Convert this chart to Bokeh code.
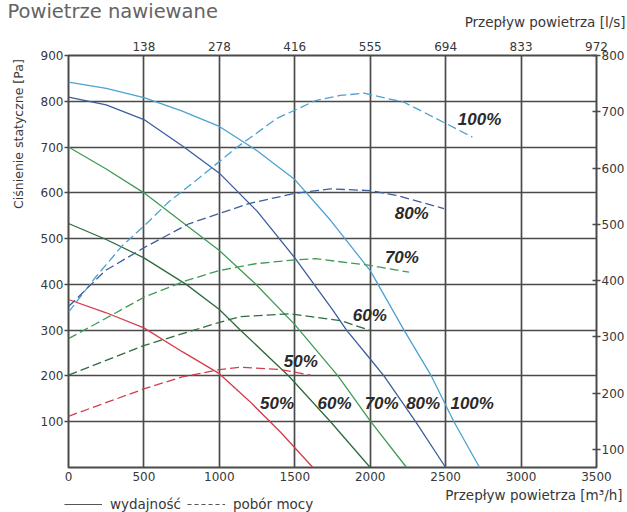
from bokeh.plotting import figure
from bokeh.models import (Range1d, LinearAxis, FixedTicker, Legend, LegendItem,
                          ColumnDataSource)
from bokeh.layouts import column, row
from bokeh.core.properties import value
from bokeh.embed import file_html
from bokeh.resources import INLINE

# ---------------- data ----------------
flow_ticks = [0, 500, 1000, 1500, 2000, 2500, 3000, 3500]
ls_labels = ["138", "278", "416", "555", "694", "833", "972"]
pa_ticks = [100, 200, 300, 400, 500, 600, 700, 800, 900]
w_ticks = [100, 200, 300, 400, 500, 600, 700, 800]

# performance curves: flow [m3/h] -> static pressure [Pa]
q100 = [0, 250, 500, 750, 1000, 1250, 1500, 1737, 2000, 2224, 2405, 2555, 2725]
p100 = [842, 828, 808, 779, 745, 692, 629, 540, 430, 300, 200, 100, 0]
q80 = [0, 250, 500, 765, 1000, 1250, 1500, 1750, 1843, 2000, 2091, 2301, 2500]
p80 = [809, 792, 760, 700, 643, 560, 458, 345, 300, 237, 200, 100, 0]
q70 = [0, 250, 500, 742, 1000, 1240, 1500, 1786, 2000, 2241]
p70 = [700, 652, 600, 539, 474, 401, 312, 200, 102, 0]
q60 = [0, 250, 500, 780, 1000, 1140, 1460, 1737, 2000]
p60 = [533, 498, 458, 400, 345, 300, 200, 100, 0]
q50 = [0, 250, 500, 754, 1000, 1196, 1406, 1620]
p50 = [367, 338, 305, 253, 205, 146, 77, 0]

# power consumption curves: flow [m3/h] -> power [W] (right axis)
qw100 = [0, 179, 356, 504, 665, 864, 1107, 1380, 1638, 1800, 1958, 2224, 2489, 2677]
w100 = [344, 406, 462, 498, 540, 582, 635, 688, 720, 729, 733, 717, 681, 655]
qw80 = [0, 245, 504, 798, 1196, 1500, 1737, 1998, 2180, 2489]
w80 = [354, 418, 459, 501, 537, 555, 563, 560, 551, 528]
qw70 = [0, 179, 504, 780, 1001, 1240, 1500, 1638, 1998, 2257]
w70 = [297, 323, 371, 400, 418, 430, 437, 439, 427, 415]
qw60 = [0, 504, 1001, 1140, 1472, 1804, 1996]
w60 = [232, 285, 326, 336, 341, 329, 312]
qw50 = [0, 256, 504, 754, 1001, 1140, 1406, 1605]
w50 = [159, 184, 208, 229, 242, 246, 242, 232]

# curve labels (anchor in flow / pressure units)
perf_txt = ["50%", "60%", "70%", "80%", "100%"]
perf_lx = [1383, 1764, 2076, 2351, 2676]
perf_ly = [139, 139, 139, 139, 139]
pow_txt = ["50%", "60%", "70%", "80%", "100%"]
pow_lx = [1540, 1997, 2210, 2275, 2725]
pow_ly = [231, 332, 459, 555, 760]

# ---------------- layout ----------------
TOTAL_W = 627
HEAD_H = 34
MAIN_H = 451
FOOT_H = 27
SIDE_W = 28
MAIN_W = TOTAL_W - SIDE_W

GRID = "#4a4a4a"
TXT = "#383838"
FONT = "DejaVu Sans"


def blank(w, h):
    f = figure(width=w, height=h, x_range=Range1d(0, w), y_range=Range1d(0, h),
               min_border=0, toolbar_location=None, output_backend="svg",
               x_axis_location=None, y_axis_location=None)
    f.outline_line_color = None
    f.grid.visible = False
    f.background_fill_color = "white"
    f.border_fill_color = "white"
    return f


# header with the chart title and the l/s axis title
head = blank(TOTAL_W, HEAD_H)
head.text(x=[7], y=[HEAD_H - 11], text=["Powietrze nawiewane"], text_font=value(FONT),
          text_font_size="19.5px", text_color="#646464", text_align="left",
          text_baseline="middle")
head.text(x=[625], y=[HEAD_H - 21], text=["Przepływ powietrza [l/s]"],
          text_font=value(FONT), text_font_size="13.5px", text_color=TXT,
          text_align="right", text_baseline="middle")

# left strip with the rotated pressure title
side = blank(SIDE_W, MAIN_H)
side.text(x=[18], y=[MAIN_H - 86], text=["Ciśnienie statyczne [Pa]"],
          text_font=value(FONT), text_font_size="12.5px", text_color=TXT,
          text_align="center", text_baseline="middle", angle=1.5708)

# main chart
p = figure(width=MAIN_W, height=MAIN_H, x_range=Range1d(0, 3500), y_range=Range1d(0, 900),
           output_backend="svg", toolbar_location=None,
           min_border_left=40, min_border_right=31, min_border_top=21, min_border_bottom=18)
p.extra_y_ranges = {"power": Range1d(68, 800)}
p.background_fill_color = "white"
p.border_fill_color = "white"
p.outline_line_color = GRID
p.outline_line_width = 2
p.outline_line_alpha = 1

xa = p.xaxis[0]
xa.ticker = FixedTicker(ticks=flow_ticks)
xa.major_tick_in = 0
xa.major_tick_out = 0
xa.minor_tick_in = 0
xa.minor_tick_out = 0
xa.axis_line_color = None
xa.major_label_standoff = 4

ya = p.yaxis[0]
ya.ticker = FixedTicker(ticks=pa_ticks)
ya.major_tick_in = 0
ya.major_tick_out = 4
ya.minor_tick_in = 0
ya.minor_tick_out = 0
ya.major_tick_line_color = GRID
ya.major_tick_line_width = 1.5
ya.axis_line_color = None
ya.major_label_standoff = 1

ra = LinearAxis(y_range_name="power", ticker=FixedTicker(ticks=w_ticks),
                major_tick_in=4, major_tick_out=4, minor_tick_in=0, minor_tick_out=0,
                major_tick_line_color=GRID, major_tick_line_width=1.5,
                axis_line_color=None, major_label_standoff=1)
p.add_layout(ra, "right")

ta = LinearAxis(ticker=FixedTicker(ticks=flow_ticks[1:]),
                major_label_overrides={t: l for t, l in zip(flow_ticks[1:], ls_labels)},
                major_tick_in=0, major_tick_out=0, minor_tick_in=0, minor_tick_out=0,
                axis_line_color=None, major_label_standoff=5)
p.add_layout(ta, "above")

for ax in (xa, ya, ra, ta):
    ax.major_label_text_font = FONT
    ax.major_label_text_font_size = "12px"
    ax.major_label_text_color = TXT

p.xgrid.ticker = FixedTicker(ticks=flow_ticks[1:-1])
p.ygrid.ticker = FixedTicker(ticks=pa_ticks[:-1])
for g in (p.xgrid[0], p.ygrid[0]):
    g.grid_line_color = GRID
    g.grid_line_width = 1.7
    g.grid_line_alpha = 1

C100 = "#4ca2d0"
C80 = "#3c5e9e"
C70 = "#409a55"
C60 = "#2e6c3e"
C50 = "#d43c4c"

for q, v, c in [(q100, p100, C100), (q80, p80, C80), (q70, p70, C70),
                (q60, p60, C60), (q50, p50, C50)]:
    p.line(q, v, line_color=c, line_width=1.3)

for q, v, c in [(qw100, w100, C100), (qw80, w80, C80), (qw70, w70, C70),
                (qw60, w60, C60), (qw50, w50, C50)]:
    p.line(q, v, line_color=c, line_width=1.3, line_dash="9 4", y_range_name="power")

lab_src = ColumnDataSource(dict(x=perf_lx + pow_lx, y=perf_ly + pow_ly,
                                t=perf_txt + pow_txt))
p.text(x="x", y="y", text="t", source=lab_src, text_font=value("Liberation Sans"),
       text_font_style="bold italic", text_font_size="17px", text_color="#2a2a2a",
       text_align="center", text_baseline="middle")

# footer with legend and m3/h axis title
foot = blank(TOTAL_W, FOOT_H)
foot.text(x=[622], y=[FOOT_H - 9], text=["Przepływ powietrza [m³/h]"],
          text_font=value(FONT), text_font_size="13.5px", text_color=TXT,
          text_align="right", text_baseline="middle")
nan = float("nan")
r1 = foot.line([nan], [nan], line_color="#555555", line_width=1.2)
r2 = foot.line([nan], [nan], line_color="#555555", line_width=1.2, line_dash="4 3")
leg = Legend(items=[LegendItem(label="wydajność", renderers=[r1]),
                    LegendItem(label="pobór mocy", renderers=[r2])],
             location=(64, 0), orientation="horizontal", glyph_width=38, glyph_height=14,
             label_standoff=8, spacing=6, padding=0, margin=0, border_line_alpha=0,
             background_fill_alpha=0, label_text_font=FONT, label_text_font_size="13.5px",
             label_text_color=TXT, label_height=14)
foot.add_layout(leg)

layout = column(head, row(side, p), foot)
open("out.html", "w").write(file_html(layout, INLINE))
